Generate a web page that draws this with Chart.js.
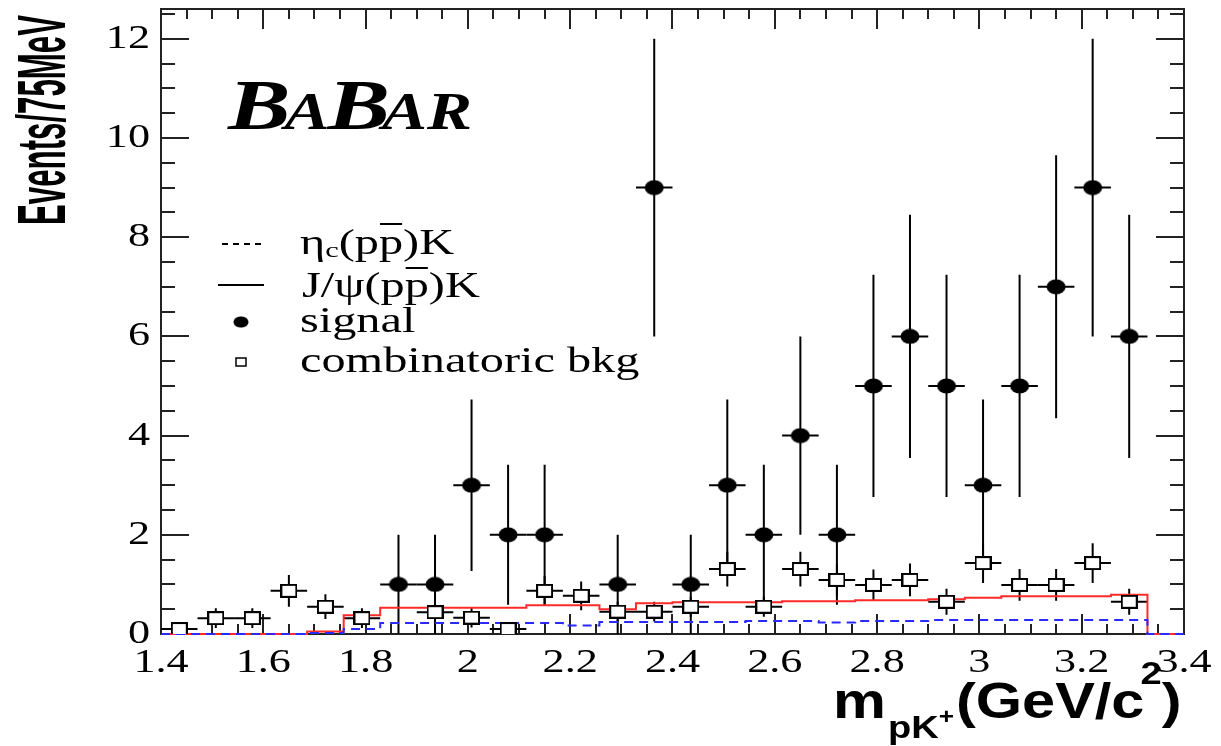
<!DOCTYPE html>
<html>
<head>
<meta charset="utf-8">
<script src="https://cdn.jsdelivr.net/npm/chart.js@4.4.1/dist/chart.umd.min.js"></script>
<style>
  body { margin: 0; background: #fff; }
  canvas { display: block; }
</style>
</head>
<body>
<canvas id="massChart" width="1221" height="746"></canvas>
<script>
// histogram binning of m(pK+)
const xMin = 1.4, xMax = 3.4, nBins = 28;
const binWidth = (xMax - xMin) / nBins;

// events per bin
const signal    = [0, 0, 0, 0, 0, 0, 1, 1, 3, 2, 2, 0, 1, 9, 1, 3, 2, 4, 2, 5, 6, 5, 3, 5, 7, 9, 6, 0];
const signalErr = [0, 0, 0, 0, 0, 0, 1, 1, 1.73, 1.41, 1.41, 0, 1, 3, 1, 1.73, 1.41, 2, 1.41, 2.24, 2.45, 2.24, 1.73, 2.24, 2.65, 3, 2.45, 0];
const bkg       = [0.1, 0.32, 0.32, 0.87, 0.55, 0.32, 0, 0.44, 0.33, 0.1, 0.87, 0.77, 0.45, 0.45, 0.55, 1.31, 0.55, 1.31, 1.09, 0.99, 1.09, 0.65, 1.43, 0.99, 0.99, 1.43, 0.65, 0];
const bkgErr    = [0.1, 0.2, 0.2, 0.32, 0.25, 0.2, 0, 0.2, 0.2, 0.1, 0.3, 0.29, 0.2, 0.2, 0.2, 0.35, 0.2, 0.35, 0.32, 0.31, 0.33, 0.26, 0.4, 0.32, 0.32, 0.4, 0.26, 0];
const jpsiK     = [0, 0, 0, 0, 0.05, 0.38, 0.53, 0.53, 0.53, 0.53, 0.58, 0.58, 0.5, 0.62, 0.64, 0.64, 0.64, 0.66, 0.66, 0.68, 0.68, 0.7, 0.73, 0.76, 0.76, 0.76, 0.79, 0];
const etacK     = [0, 0, 0, 0, 0.02, 0.1, 0.22, 0.22, 0.22, 0.22, 0.22, 0.17, 0.24, 0.24, 0.24, 0.24, 0.26, 0.26, 0.23, 0.26, 0.26, 0.28, 0.28, 0.28, 0.28, 0.28, 0.28, 0];

const xTicks = [1.4, 1.6, 1.8, 2, 2.2, 2.4, 2.6, 2.8, 3, 3.2, 3.4];
const yTicks = [0, 2, 4, 6, 8, 10, 12];
const yMax = 12.6;

function points(vals, errs) {
    const out = [];
    vals.forEach((v, i) => {
        if (v > 0) out.push({ x: xMin + (i + 0.5) * binWidth, y: v, err: errs[i] });
    });
    return out;
}

function steps(vals) {
    const out = vals.map((v, i) => ({ x: xMin + i * binWidth, y: v }));
    out.push({ x: xMax, y: vals[vals.length - 1] });
    return out;
}

// marker images (ROOT style 20 and 25)
const dotMarker = (() => {
    const c = document.createElement("canvas");
    c.width = 20; c.height = 16;
    const g = c.getContext("2d");
    g.fillStyle = "#000";
    g.beginPath();
    g.ellipse(10, 8, 9.5, 7.5, 0, 0, Math.PI * 2);
    g.fill();
    return c;
})();
const boxMarker = (() => {
    const c = document.createElement("canvas");
    c.width = 17; c.height = 14;
    const g = c.getContext("2d");
    g.fillStyle = "#fff";
    g.fillRect(1, 1, 15, 12);
    g.strokeStyle = "#000";
    g.lineWidth = 2;
    g.strokeRect(1, 1, 15, 12);
    return c;
})();

const SERIF = "'Liberation Serif', 'DejaVu Serif', serif";
const SANS = "'Liberation Sans', Arial, sans-serif";

// draw text stretched horizontally, returns drawn width
function sText(ctx, text, x, y, font, sx, align) {
    ctx.save();
    ctx.font = font;
    const w = ctx.measureText(text).width * sx;
    ctx.translate(x, y);
    ctx.scale(sx, 1);
    ctx.textAlign = align || "left";
    ctx.fillText(text, 0, 0);
    ctx.restore();
    return w;
}

// frame and inward ticks, under the data
const frame = {
    id: "frame",
    beforeDatasetsDraw(chart) {
        const { ctx, scales: { x, y }, chartArea: a } = chart;
        ctx.save();
        ctx.strokeStyle = "#222";
        ctx.lineWidth = 2;
        ctx.beginPath();
        for (let v = xMin; v <= xMax + 1e-9; v += 0.05) {
            const px = Math.round(x.getPixelForValue(v));
            const major = Math.abs(v / 0.2 - Math.round(v / 0.2)) < 1e-6;
            const len = major ? 20 : 10;
            ctx.moveTo(px, a.bottom); ctx.lineTo(px, a.bottom - len);
            ctx.moveTo(px, a.top); ctx.lineTo(px, a.top + len);
        }
        for (let v = 0; v <= yMax + 1e-9; v += 0.5) {
            const py = Math.round(y.getPixelForValue(v));
            const major = v % 2 === 0;
            const len = major ? 28 : 14;
            ctx.moveTo(a.left, py); ctx.lineTo(a.left + len, py);
            ctx.moveTo(a.right, py); ctx.lineTo(a.right - len, py);
        }
        ctx.stroke();
        ctx.strokeRect(a.left, a.top, a.right - a.left, a.bottom - a.top);
        ctx.restore();
    }
};

const errorBars = {
    id: "errorBars",
    beforeDatasetsDraw(chart) {
        const { ctx, scales: { x, y }, chartArea } = chart;
        ctx.save();
        ctx.beginPath();
        ctx.rect(chartArea.left, chartArea.top, chartArea.width, chartArea.height);
        ctx.clip();
        ctx.strokeStyle = "#000";
        ctx.lineWidth = 2;
        chart.data.datasets.forEach(ds => {
            if (!ds.errorBars) return;
            ds.data.forEach(p => {
                const px = x.getPixelForValue(p.x);
                const py = y.getPixelForValue(p.y);
                ctx.beginPath();
                ctx.moveTo(px, y.getPixelForValue(p.y - p.err));
                ctx.lineTo(px, y.getPixelForValue(p.y + p.err));
                ctx.moveTo(x.getPixelForValue(p.x - binWidth / 2), py);
                ctx.lineTo(x.getPixelForValue(p.x + binWidth / 2), py);
                ctx.stroke();
            });
        });
        ctx.restore();
    }
};

const decorations = {
    id: "decorations",
    afterDraw(chart) {
        const { ctx, scales: { x, y } } = chart;
        ctx.save();
        ctx.fillStyle = "#000";

        // tick labels
        ctx.textBaseline = "middle";
        yTicks.forEach(v => sText(ctx, String(v), 150, y.getPixelForValue(v), `34px ${SERIF}`, 1.3, "right"));
        ctx.textBaseline = "top";
        xTicks.forEach(v => sText(ctx, String(v), x.getPixelForValue(v), 646, `34px ${SERIF}`, 1.3, "center"));

        // y title
        ctx.save();
        ctx.font = `bold 44px ${SANS}`;
        const yw = ctx.measureText("Events/75MeV").width;
        ctx.translate(46, 120);
        ctx.rotate(-Math.PI / 2);
        ctx.scale(210 / yw, 1.55);
        ctx.textAlign = "center";
        ctx.textBaseline = "middle";
        ctx.fillText("Events/75MeV", 0, 0);
        ctx.restore();

        // x title  m_{pK+}(GeV/c^2)
        ctx.textBaseline = "alphabetic";
        let cx = 833;
        const sxT = 1.19;
        cx += sText(ctx, "m", cx, 718, `bold 50px ${SANS}`, sxT);
        cx += sText(ctx, "pK", cx + 2, 738, `bold 32px ${SANS}`, sxT);
        cx += sText(ctx, "+", cx + 2, 724, `bold 22px ${SANS}`, sxT) + 4;
        cx += sText(ctx, "(GeV/c", cx, 718, `bold 50px ${SANS}`, sxT);
        cx += sText(ctx, "2", cx - 4, 684, `bold 32px ${SANS}`, sxT) - 4;
        sText(ctx, ")", cx, 718, `bold 50px ${SANS}`, sxT);

        // BABAR logo
        let bx = 228;
        const big = `italic bold 72px ${SERIF}`, small = `italic bold 52px ${SERIF}`;
        bx += sText(ctx, "B", bx, 129, big, 1.3) - 6;
        bx += sText(ctx, "A", bx, 129, small, 1.3) - 2;
        bx += sText(ctx, "B", bx, 129, big, 1.3) - 8;
        sText(ctx, "AR", bx, 129, small, 1.3);

        // legend
        ctx.strokeStyle = "#000";
        ctx.lineWidth = 2;
        ctx.setLineDash([6, 5]);
        ctx.beginPath(); ctx.moveTo(222, 244); ctx.lineTo(264, 244); ctx.stroke();
        ctx.setLineDash([]);
        ctx.beginPath(); ctx.moveTo(218, 285); ctx.lineTo(264, 285); ctx.stroke();
        ctx.drawImage(dotMarker, 241 - 8, 322 - 6, 16, 12);
        ctx.fillStyle = "#fff";
        ctx.fillRect(236, 358, 10, 8);
        ctx.lineWidth = 1.5;
        ctx.strokeRect(236, 358, 10, 8);
        ctx.fillStyle = "#000";

        const lf = `35px ${SERIF}`, ls = 1.38;
        // row 1: eta_c(p pbar)K
        let lx = 300;
        lx += sText(ctx, "\u03B7", lx, 254, lf, ls);
        lx += sText(ctx, "c", lx, 257, `22px ${SERIF}`, ls);
        lx += sText(ctx, "(p", lx, 254, lf, ls);
        let pw = sText(ctx, "p", lx, 254, lf, ls);
        ctx.fillRect(lx + 1, 223, pw - 2, 2);
        lx += pw;
        sText(ctx, ")K", lx, 254, lf, ls);
        // row 2: J/psi(p pbar)K
        lx = 302;
        lx += sText(ctx, "J/\u03C8(p", lx, 297, lf, ls);
        pw = sText(ctx, "p", lx, 297, lf, ls);
        ctx.fillRect(lx + 1, 267, pw - 2, 2);
        lx += pw;
        sText(ctx, ")K", lx, 297, lf, ls);
        sText(ctx, "signal", 300, 332, lf, ls);
        sText(ctx, "combinatoric bkg", 300, 372, lf, ls);
        ctx.restore();
    }
};

new Chart(document.getElementById("massChart"), {
    type: "scatter",
    data: {
        datasets: [
            {
                label: "signal",
                data: points(signal, signalErr),
                errorBars: true,
                pointStyle: dotMarker,
                pointRadius: 8,
                order: 0
            },
            {
                label: "combinatoric bkg",
                data: points(bkg, bkgErr),
                errorBars: true,
                pointStyle: boxMarker,
                pointRadius: 8,
                order: 1
            },
            {
                type: "line",
                label: "\u03B7c(pp\u0305)K",
                data: steps(etacK),
                stepped: true,
                borderColor: "#2a2aff",
                borderWidth: 2,
                borderDash: [9, 6],
                pointRadius: 0,
                fill: false,
                clip: 3,
                order: 2
            },
            {
                type: "line",
                label: "J/\u03C8(pp\u0305)K",
                data: steps(jpsiK),
                stepped: true,
                borderColor: "#ff2a2a",
                borderWidth: 2,
                pointRadius: 0,
                fill: false,
                clip: 3,
                order: 3
            }
        ]
    },
    options: {
        responsive: false,
        animation: false,
        events: [],
        layout: { padding: { top: 8, right: 37, left: 0, bottom: 0 } },
        plugins: { legend: { display: false }, tooltip: { enabled: false } },
        scales: {
            x: {
                type: "linear", min: xMin, max: xMax,
                grid: { display: false }, border: { display: false },
                ticks: { display: false },
                afterFit(s) { s.height = 112; }
            },
            y: {
                type: "linear", min: 0, max: yMax,
                grid: { display: false }, border: { display: false },
                ticks: { display: false },
                afterFit(s) { s.width = 161; }
            }
        }
    },
    plugins: [frame, errorBars, decorations]
});
</script>
</body>
</html>
